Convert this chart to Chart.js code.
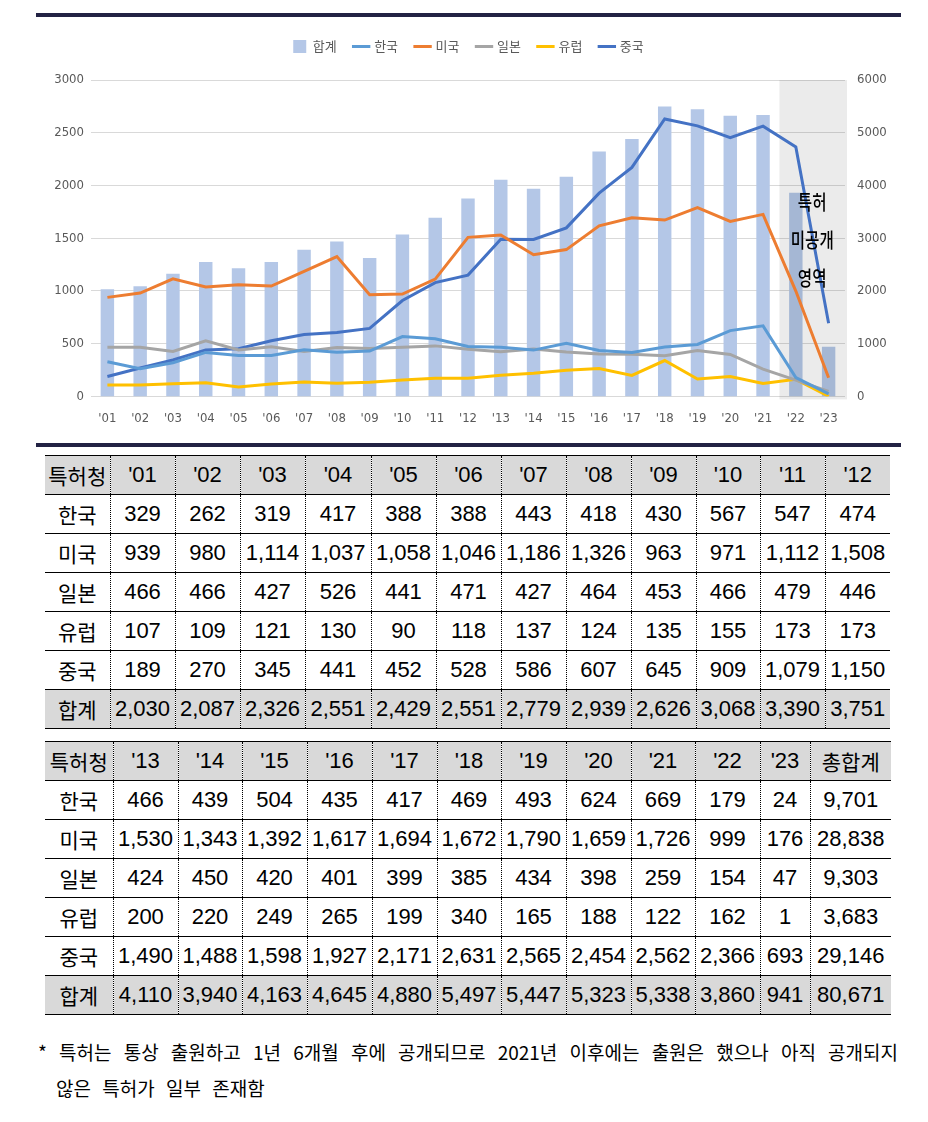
<!DOCTYPE html>
<html lang="ko">
<head>
<meta charset="utf-8">
<title>특허청별 특허 출원 추이</title>
<script src="https://cdn.jsdelivr.net/npm/chart.js@4.4.1/dist/chart.umd.min.js"></script>
<style>
  body { margin: 0; background: #fff; }
  .page { position: relative; width: 928px; height: 1122px; }
  .navy { position: absolute; left: 36px; width: 865px; height: 4px; background: #222244; }
  #chartBox { position: absolute; left: 36px; top: 20px; width: 865px; height: 420px; }
  table.tbl {
    position: absolute; left: 45px; border-collapse: collapse; table-layout: fixed;
    font-family: 'Liberation Sans', Arial, sans-serif; font-size: 22px; color: #000;
  }
  table.tbl td {
    height: 38px; padding: 0; text-align: center; white-space: nowrap; overflow: hidden;
    border-top: 1px solid #000; border-bottom: 1px solid #000; border-left: 1px dotted #000;
  }
  table.tbl td:first-child { border-left: none; }
  table.tbl tr.gray td { background: #d9d9d9; }
  table.tbl td.kr { font-family: 'Noto Sans CJK KR', sans-serif; font-size: 21px; }
  .note {
    position: absolute; left: 38px; top: 1034px; width: 842px; padding-left: 18px; text-indent: -18px;
    font-family: 'Noto Sans CJK KR', sans-serif; font-size: 19px; line-height: 36px; word-spacing: 6px;
    text-align: justify; color: #000;
  }
</style>
</head>
<body>
<div class="page">
  <div class="navy" style="top:13px"></div>
  <div id="chartBox"><canvas id="grafico"></canvas></div>
  <div class="navy" style="top:443px"></div>
  <table class="tbl" id="tabla1" style="top:455px"></table>
  <table class="tbl" id="tabla2" style="top:741px"></table>
  <div class="note">* 특허는 통상 출원하고 1년 6개월 후에 공개되므로 2021년 이후에는 출원은 했으나 아직 공개되지 않은 특허가 일부 존재함</div>
</div>
<script>
// Datos (특허청별 연도별 출원 건수)
const years = ["'01", "'02", "'03", "'04", "'05", "'06", "'07", "'08", "'09", "'10", "'11", "'12",
               "'13", "'14", "'15", "'16", "'17", "'18", "'19", "'20", "'21", "'22", "'23"];
const korea  = [329, 262, 319, 417, 388, 388, 443, 418, 430, 567, 547, 474, 466, 439, 504, 435, 417, 469, 493, 624, 669, 179, 24];
const usa    = [939, 980, 1114, 1037, 1058, 1046, 1186, 1326, 963, 971, 1112, 1508, 1530, 1343, 1392, 1617, 1694, 1672, 1790, 1659, 1726, 999, 176];
const japan  = [466, 466, 427, 526, 441, 471, 427, 464, 453, 466, 479, 446, 424, 450, 420, 401, 399, 385, 434, 398, 259, 154, 47];
const europe = [107, 109, 121, 130, 90, 118, 137, 124, 135, 155, 173, 173, 200, 220, 249, 265, 199, 340, 165, 188, 122, 162, 1];
const china  = [189, 270, 345, 441, 452, 528, 586, 607, 645, 909, 1079, 1150, 1490, 1488, 1598, 1927, 2171, 2631, 2565, 2454, 2562, 2366, 693];
const total  = [2030, 2087, 2326, 2551, 2429, 2551, 2779, 2939, 2626, 3068, 3390, 3751, 4110, 3940, 4163, 4645, 4880, 5497, 5447, 5323, 5338, 3860, 941];
const grandTotals = [9701, 28838, 9303, 3683, 29146, 80671];
const leftTicks = [0, 500, 1000, 1500, 2000, 2500, 3000];
const rightTicks = [0, 1000, 2000, 3000, 4000, 5000, 6000];
const unpublishedFrom = 21;   // '22, '23 = 미공개 영역
const noteLines = ['특허', '미공개', '영역'];
const noteLevels = [1840, 1480, 1120];

const tickFont = { family: "'Liberation Sans Narrow', 'DejaVu Sans Condensed', 'Liberation Sans', sans-serif", size: 13 };
const grisTexto = '#595959';

// Altura fija de la leyenda
const leyendaPlugin = {
    id: 'leyendaAlto',
    beforeInit(chart) {
        const fitOriginal = chart.legend.fit;
        chart.legend.fit = function() {
            fitOriginal.bind(chart.legend)();
            this.height = 58;
        };
    }
};

// Sombra de la zona no publicada + texto
const zonaPlugin = {
    id: 'zona',
    afterDatasetDraw(chart, args) {
        if (args.index !== 0) return;
        const { ctx, chartArea, scales } = chart;
        const step = scales.x.width / years.length;
        const left = scales.x.getPixelForValue(unpublishedFrom) - step / 2;
        ctx.save();
        ctx.fillStyle = 'rgba(0,0,0,0.08)';
        ctx.fillRect(left, chartArea.top, chartArea.right + 2 - left, chartArea.bottom + 3 - chartArea.top);
        ctx.restore();
    },
    afterDatasetsDraw(chart) {
        const { ctx, scales } = chart;
        const cx = (scales.x.getPixelForValue(unpublishedFrom) + scales.x.getPixelForValue(unpublishedFrom + 1)) / 2;
        ctx.save();
        ctx.fillStyle = '#000';
        ctx.font = "500 20px 'Noto Sans CJK KR', sans-serif";
        ctx.textAlign = 'center';
        ctx.textBaseline = 'middle';
        noteLines.forEach((t, i) => {
            ctx.save();
            ctx.translate(cx, scales.y.getPixelForValue(noteLevels[i]));
            ctx.scale(0.78, 1);
            ctx.fillText(t, 0, 0);
            ctx.restore();
        });
        ctx.restore();
    }
};

function lineaSerie(label, data, color) {
    return {
        type: 'line', label: label, data: data, yAxisID: 'y',
        borderColor: color, backgroundColor: color, borderWidth: 3,
        pointRadius: 0, pointStyle: 'line', tension: 0, order: 0
    };
}

const ctx = document.getElementById('grafico').getContext('2d');
new Chart(ctx, {
    type: 'bar',
    data: {
        labels: years,
        datasets: [
            {
                type: 'bar', label: '합계', data: total, yAxisID: 'y2',
                backgroundColor: '#b4c7e7', barPercentage: 0.41, categoryPercentage: 1,
                pointStyle: 'rect', order: 1
            },
            lineaSerie('한국', korea, '#5b9bd5'),
            lineaSerie('미국', usa, '#ed7d31'),
            lineaSerie('일본', japan, '#a5a5a5'),
            lineaSerie('유럽', europe, '#ffc000'),
            lineaSerie('중국', china, '#4472c4')
        ]
    },
    options: {
        responsive: true,
        maintainAspectRatio: false,
        animation: false,
        layout: { padding: { top: 2, bottom: 8, left: 0, right: 0 } },
        plugins: {
            legend: {
                labels: {
                    usePointStyle: true, boxHeight: 13, padding: 18, color: grisTexto,
                    font: { family: "'Noto Sans CJK KR', sans-serif", size: 13 },
                    sort: (a, b) => a.datasetIndex - b.datasetIndex
                }
            },
            tooltip: { enabled: false }
        },
        scales: {
            x: {
                grid: { display: false }, border: { display: false },
                ticks: { color: grisTexto, font: tickFont, padding: 6, maxRotation: 0, autoSkip: false }
            },
            y: {
                position: 'left', min: 0, max: 3000,
                afterBuildTicks: s => { s.ticks = leftTicks.map(v => ({ value: v })); },
                grid: { color: '#d9d9d9', drawTicks: false }, border: { display: false },
                ticks: { color: grisTexto, font: tickFont, padding: 7, callback: v => String(v) },
                afterFit: s => { s.width = 55; }
            },
            y2: {
                position: 'right', min: 0, max: 6000,
                afterBuildTicks: s => { s.ticks = rightTicks.map(v => ({ value: v })); },
                grid: { display: false, drawTicks: false }, border: { display: false },
                ticks: { color: grisTexto, font: tickFont, padding: 12, callback: v => String(v) },
                afterFit: s => { s.width = 56; }
            }
        }
    },
    plugins: [leyendaPlugin, zonaPlugin]
});

// Tablas
const filas = [['한국', korea], ['미국', usa], ['일본', japan], ['유럽', europe], ['중국', china], ['합계', total]];
const fmt = n => n.toLocaleString('en-US');

function construirTabla(id, desde, hasta, anchos, conTotal) {
    const tabla = document.getElementById(id);
    let html = '<colgroup>' + anchos.map(w => `<col style="width:${w}px">`).join('') + '</colgroup>';
    html += '<tr class="gray"><td class="kr">특허청</td>';
    for (let i = desde; i < hasta; i++) html += `<td>${years[i]}</td>`;
    if (conTotal) html += '<td class="kr">총합계</td>';
    html += '</tr>';
    filas.forEach(([nombre, datos], r) => {
        html += `<tr${r === filas.length - 1 ? ' class="gray"' : ''}><td class="kr">${nombre}</td>`;
        for (let i = desde; i < hasta; i++) html += `<td>${fmt(datos[i])}</td>`;
        if (conTotal) html += `<td>${fmt(grandTotals[r])}</td>`;
        html += '</tr>';
    });
    tabla.innerHTML = html;
    tabla.style.width = anchos.reduce((a, b) => a + b, 0) + 'px';
}

construirTabla('tabla1', 0, 12, [65, 65, 65, 65, 66, 65, 65, 65, 65, 65, 64, 65, 65], false);
construirTabla('tabla2', 12, 23, [68, 65, 64, 65, 65, 65, 64, 65, 65, 64, 65, 50, 81], true);
</script>
</body>
</html>
